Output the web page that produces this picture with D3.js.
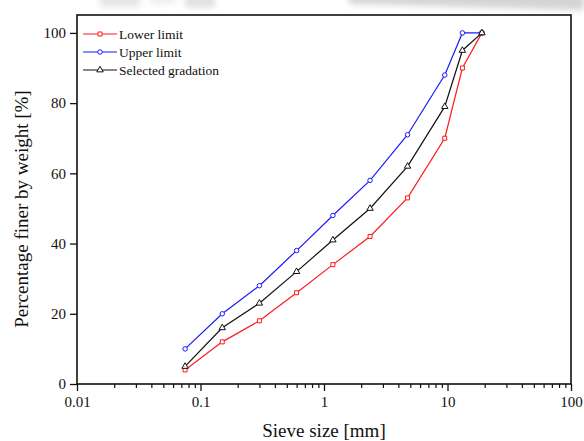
<!DOCTYPE html>
<html>
<head>
<meta charset="utf-8">
<script src="https://cdn.jsdelivr.net/npm/d3@7"></script>
<style>
  html, body { margin: 0; padding: 0; background: #fff; }
  svg { display: block; }
  text { font-family: "Liberation Serif", "Times New Roman", serif; fill: #111; }
</style>
</head>
<body>
<svg id="chart" width="584" height="441"></svg>
<script>
// Sieve sizes (mm) and percentage passing for each gradation curve
const sieveSizes = [0.075, 0.15, 0.3, 0.6, 1.18, 2.36, 4.75, 9.5, 13.2, 19];
const lowerLimit = [4, 12, 18, 26, 34, 42, 53, 70, 90, 100];
const upperLimit = [10, 20, 28, 38, 48, 58, 71, 88, 100, 100];
const selectedGradation = [5, 16, 23, 32, 41, 50, 62, 79, 95, 100];

const seriesNames = ["Lower limit", "Upper limit", "Selected gradation"];
const seriesColors = ["#ff1a1a", "#1a1aff", "#111111"];
const seriesSymbols = [d3.symbolSquare, d3.symbolCircle, d3.symbolTriangle];

const xTickValues = [0.01, 0.1, 1, 10, 100];
const xTickLabels = ["0.01", "0.1", "1", "10", "100"];
const yTickValues = [0, 20, 40, 60, 80, 100];

const SERIF = '"Liberation Serif", "Times New Roman", serif';
const W = 584, H = 441;
const margin = { top: 15, right: 13, bottom: 57, left: 77 };
const iw = W - margin.left - margin.right;
const ih = H - margin.top - margin.bottom;

const svg = d3.select("#chart");

// soft grey haze along the top edge
const defs = svg.append("defs");
const blur = defs.append("filter").attr("id", "haze").attr("x", "-50%").attr("y", "-50%").attr("width", "200%").attr("height", "200%");
blur.append("feGaussianBlur").attr("stdDeviation", 3);
const haze = svg.append("g").attr("filter", "url(#haze)").attr("fill", "#d4d4d4");
haze.append("path").attr("d", "M345,-10 L584,-10 L584,10 C520,9 440,6 350,4 Z");
haze.append("rect").attr("x", 100).attr("y", -6).attr("width", 40).attr("height", 13).attr("opacity", 0.6);
haze.append("rect").attr("x", 185).attr("y", -6).attr("width", 30).attr("height", 14).attr("opacity", 0.7);
haze.append("rect").attr("x", 150).attr("y", -6).attr("width", 25).attr("height", 10).attr("opacity", 0.4);

const g = svg.append("g").attr("transform", `translate(${margin.left},${margin.top})`);

const x = d3.scaleLog().domain([0.01, 100]).range([0, iw]);
const y = d3.scaleLinear().domain([0, 105.1]).range([ih, 0]);

// x axis: major ticks with labels, minor ticks at 2..9 of each decade
const minorTicks = [];
for (let e = -2; e < 2; e++) {
  for (let m = 2; m <= 9; m++) minorTicks.push(m * Math.pow(10, e));
}
const xMinor = d3.axisBottom(x).tickValues(minorTicks).tickSize(4).tickFormat("");
const xMajor = d3.axisBottom(x).tickValues(xTickValues).tickSize(7).tickPadding(5)
  .tickFormat((d, i) => xTickLabels[i]);

g.append("g").attr("transform", `translate(0,${ih})`).call(xMinor)
  .call(a => a.select(".domain").remove())
  .call(a => a.selectAll("line").attr("stroke", "#111").attr("stroke-width", 1.2));
g.append("g").attr("transform", `translate(0,${ih})`).call(xMajor)
  .attr("font-family", SERIF)
  .call(a => a.select(".domain").remove())
  .call(a => a.selectAll("line").attr("stroke", "#111").attr("stroke-width", 1.3))
  .call(a => a.selectAll("text").attr("font-size", 15).attr("fill", "#111"));

const yAxis = d3.axisLeft(y).tickValues(yTickValues).tickSize(7).tickPadding(4);
g.append("g").call(yAxis)
  .attr("font-family", SERIF)
  .call(a => a.select(".domain").remove())
  .call(a => a.selectAll("line").attr("stroke", "#111").attr("stroke-width", 1.3))
  .call(a => a.selectAll("text").attr("font-size", 15).attr("fill", "#111"));

// plot frame
g.append("rect").attr("x", 0).attr("y", 0).attr("width", iw).attr("height", ih)
  .attr("fill", "none").attr("stroke", "#111").attr("stroke-width", 1.6);

// gradation curves
const seriesData = [lowerLimit, upperLimit, selectedGradation];
const line = d3.line().x(d => x(d[0])).y(d => y(d[1]));

seriesData.forEach((vals, i) => {
  const pts = sieveSizes.map((s, j) => [s, vals[j]]);
  g.append("path").datum(pts).attr("d", line)
    .attr("fill", "none").attr("stroke", seriesColors[i]).attr("stroke-width", 1.2);
  const sym = d3.symbol().type(seriesSymbols[i]).size(i === 2 ? 18 : 16);
  g.selectAll(null).data(pts).enter().append("path")
    .attr("d", sym)
    .attr("transform", d => `translate(${x(d[0])},${y(d[1])})`)
    .attr("fill", "#fff").attr("stroke", seriesColors[i]).attr("stroke-width", 1);
});

// legend
const legend = g.append("g").attr("transform", "translate(6,19)");
seriesNames.forEach((name, i) => {
  const row = legend.append("g").attr("transform", `translate(0,${i * 18})`);
  row.append("line").attr("x1", 0).attr("x2", 34).attr("y1", 0).attr("y2", 0)
    .attr("stroke", seriesColors[i]).attr("stroke-width", 1.2);
  row.append("path").attr("d", d3.symbol().type(seriesSymbols[i]).size(i === 2 ? 18 : 16))
    .attr("transform", "translate(17,0)")
    .attr("fill", "#fff").attr("stroke", seriesColors[i]).attr("stroke-width", 1);
  row.append("text").attr("x", 36).attr("y", 0).attr("dy", "0.35em")
    .attr("font-family", SERIF).attr("font-size", 13.5).text(name);
});

// axis titles
svg.append("text").attr("x", margin.left + iw / 2).attr("y", 437)
  .attr("font-family", SERIF)
  .attr("text-anchor", "middle").attr("font-size", 19).text("Sieve size [mm]");
svg.append("text").attr("transform", "translate(28,209) rotate(-90)")
  .attr("font-family", SERIF)
  .attr("text-anchor", "middle").attr("font-size", 19).text("Percentage finer by weight [%]");
</script>
</body>
</html>
